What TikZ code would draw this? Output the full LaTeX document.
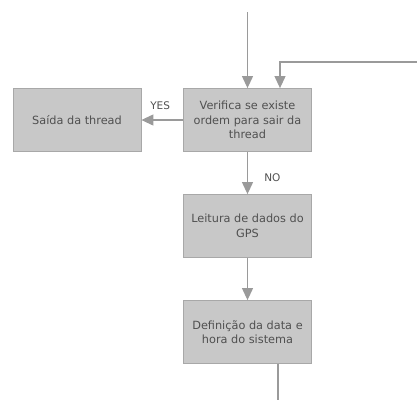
\documentclass[tikz,border=0pt]{standalone}
\usepackage{fontspec}
\setmainfont{DejaVu Sans}
\usetikzlibrary{arrows.meta}
\definecolor{boxfill}{HTML}{C8C8C8}
\definecolor{boxline}{HTML}{A8A8A8}
\definecolor{wire}{HTML}{9A9A9A}
\definecolor{ink}{HTML}{505050}
\tikzset{
  procbox/.style={draw=boxline, line width=0.8pt, fill=boxfill, minimum width=128pt,
    minimum height=63pt, align=center, text=ink, font=\fontsize{11.3}{14.5}\selectfont,
    inner sep=2pt},
  conn/.style={draw=wire, line width=1.1pt, -{Triangle[width=11pt,length=12pt]}},
  wireonly/.style={draw=wire, line width=1.1pt},
  lbl/.style={text=ink, font=\fontsize{10.5}{12}\selectfont}
}
\begin{document}
\begin{tikzpicture}[x=1pt,y=-1pt]
  \useasboundingbox (0,0) rectangle (417,400);
  % process boxes
  \node[procbox] (exit) at (77,120) {Saída da thread};
  \node[procbox] (check) at (247.5,120) {Verifica se existe\\ordem para sair da\\thread};
  \node[procbox] (gps) at (247.5,226) {Leitura de dados do\\GPS};
  \node[procbox] (clock) at (247.5,332) {Definição da data e\\hora do sistema};
  % free ends of the incoming and outgoing wires
  \coordinate (entry) at (247.5,12);
  \coordinate (loopin) at (417,62);
  \coordinate (outend) at (278,400);
  % connectors
  \draw[conn] (entry) -- (check.north);
  \draw[conn] (loopin) -| ([xshift=32.5pt]check.north);
  \draw[conn] (check.west) -- node[lbl, above=6pt, pos=0.55] {YES} (exit.east);
  \draw[conn] (check.south) -- node[lbl, right=13pt, pos=0.6] {NO} (gps.north);
  \draw[conn] (gps.south) -- (clock.north);
  \draw[wireonly] ([xshift=30.5pt]clock.south) -- (outend);
\end{tikzpicture}
\end{document}
